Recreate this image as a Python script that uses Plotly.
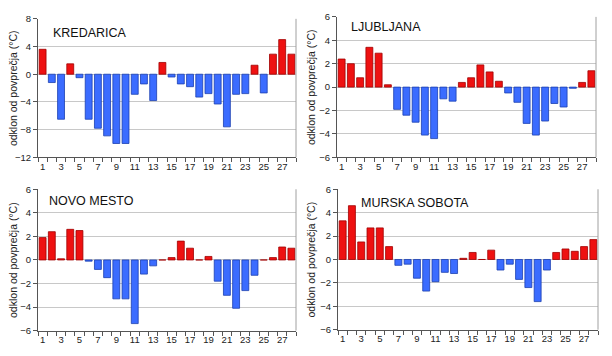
import plotly.graph_objects as go

days = list(range(1, 29))
tick_labels = [str(d) for d in range(1, 29, 2)]

kredarica = [3.6, -1.2, -6.5, 1.5, -0.5, -6.5, -7.8, -8.9, -10.0, -10.0, -2.9, -1.4, -3.8, 1.7,
             -0.4, -1.4, -1.8, -3.3, -2.8, -4.3, -7.6, -2.9, -2.8, 1.3, -2.7, 2.9, 5.0, 2.9]
ljubljana = [2.4, 2.0, 0.8, 3.4, 2.9, 0.2, -1.9, -2.4, -3.0, -4.1, -4.4, -1.0, -1.2, 0.4,
             0.8, 1.9, 1.3, 0.5, -0.5, -1.3, -3.1, -4.1, -2.9, -1.4, -1.7, -0.1, 0.4, 1.4]
novo_mesto = [1.9, 2.4, 0.1, 2.6, 2.5, -0.1, -0.8, -1.5, -3.3, -3.3, -5.4, -1.2, -0.5, 0.0,
              0.2, 1.6, 1.0, 0.0, 0.3, -1.8, -3.0, -4.1, -2.6, -1.3, 0.0, 0.2, 1.1, 1.0]
murska_sobota = [3.3, 4.6, 1.5, 2.7, 2.7, 1.1, -0.5, -0.4, -1.6, -2.7, -1.9, -1.1, -1.2, 0.1,
                 0.6, 0.0, 0.8, -0.9, -0.4, -1.7, -2.4, -3.6, -0.9, 0.6, 0.9, 0.7, 1.1, 1.7]

stations = ["KREDARICA", "LJUBLJANA", "NOVO MESTO", "MURSKA SOBOTA"]
series = [kredarica, ljubljana, novo_mesto, murska_sobota]
y_ranges = [(-12, 8, 4), (-6, 6, 2), (-6, 6, 2), (-6, 6, 2)]

# page body has an 8px margin: work in window pixels, convert to figure pixels
OFF = 8
W, H = 612 - OFF, 356 - OFF
# window pixel boxes (left, right, top, bottom)
boxes = [(38, 296, 13, 156), (337, 596, 11, 156), (38, 296, 189, 335), (338, 598, 189, 334)]
title_pos = [(51, 28), (349, 21), (47, 201), (359, 203)]
ytitle_x = [13, 311, 13, 311]


def px(x):
    return (x - OFF) / W


def py(y):
    return 1 - (y - OFF) / H


RED, RED_EDGE = "#ee1111", "#a00000"
BLUE, BLUE_EDGE = "#3b6cff", "#1a3fb0"
FONT = "Liberation Sans, Arial"

fig = go.Figure()
annotations = []
for i, (name, vals) in enumerate(zip(stations, series)):
    n = i + 1
    xa = "x" if n == 1 else f"x{n}"
    ya = "y" if n == 1 else f"y{n}"
    colors = [RED if v >= 0 else BLUE for v in vals]
    edges = [RED_EDGE if v >= 0 else BLUE_EDGE for v in vals]
    fig.add_trace(go.Bar(x=days, y=vals, xaxis=xa, yaxis=ya,
                         marker=dict(color=colors, line=dict(color=edges, width=0.8)),
                         showlegend=False))
    l, r, t, b = boxes[i]
    lo, hi, step = y_ranges[i]
    fig.layout[f"xaxis{'' if n == 1 else n}"] = dict(
        domain=[px(l), px(r)], anchor=ya, range=[0.5, 28.5],
        tickvals=list(range(1, 29, 2)), ticktext=tick_labels, ticks="outside", ticklen=0,
        tickfont=dict(size=9.5, color="#222", family=FONT),
        showline=True, linecolor="#555", linewidth=1, mirror=False, showgrid=False,
        zeroline=False,
        minor=dict(tick0=0.5, dtick=1, ticks="outside", ticklen=4, tickcolor="#555", showgrid=False))
    fig.layout[f"yaxis{'' if n == 1 else n}"] = dict(
        domain=[py(b), py(t)], anchor=xa, range=[lo, hi],
        tickvals=list(range(lo, hi + 1, step)), ticks="outside", ticklen=4, tickcolor="#555",
        tickfont=dict(size=9.5, color="#222", family=FONT),
        showline=True, linecolor="#555", linewidth=1, showgrid=True, gridcolor="#c8c8c8",
        gridwidth=1, zeroline=False)
    # right frame line
    fig.add_shape(type="line", xref="paper", yref="paper", x0=px(r), x1=px(r),
                  y0=py(b), y1=py(t), line=dict(color="#a0a0a0", width=1))
    tx, ty = title_pos[i]
    annotations.append(dict(text=name, x=px(tx), y=py(ty), xref="paper", yref="paper",
                            xanchor="left", yanchor="middle", showarrow=False,
                            font=dict(size=12.5, color="#111", family=FONT)))
    annotations.append(dict(text="odklon od povprečja (°C)", x=px(ytitle_x[i]),
                            y=py((t + b) / 2), xref="paper", yref="paper",
                            xanchor="center", yanchor="middle", textangle=-90, showarrow=False,
                            font=dict(size=10.5, color="#222", family=FONT)))

fig.update_layout(width=W, height=H, margin=dict(l=0, r=0, t=0, b=0),
                  paper_bgcolor="white", plot_bgcolor="white", bargap=0.25,
                  annotations=annotations)
fig.write_html("out.html")
